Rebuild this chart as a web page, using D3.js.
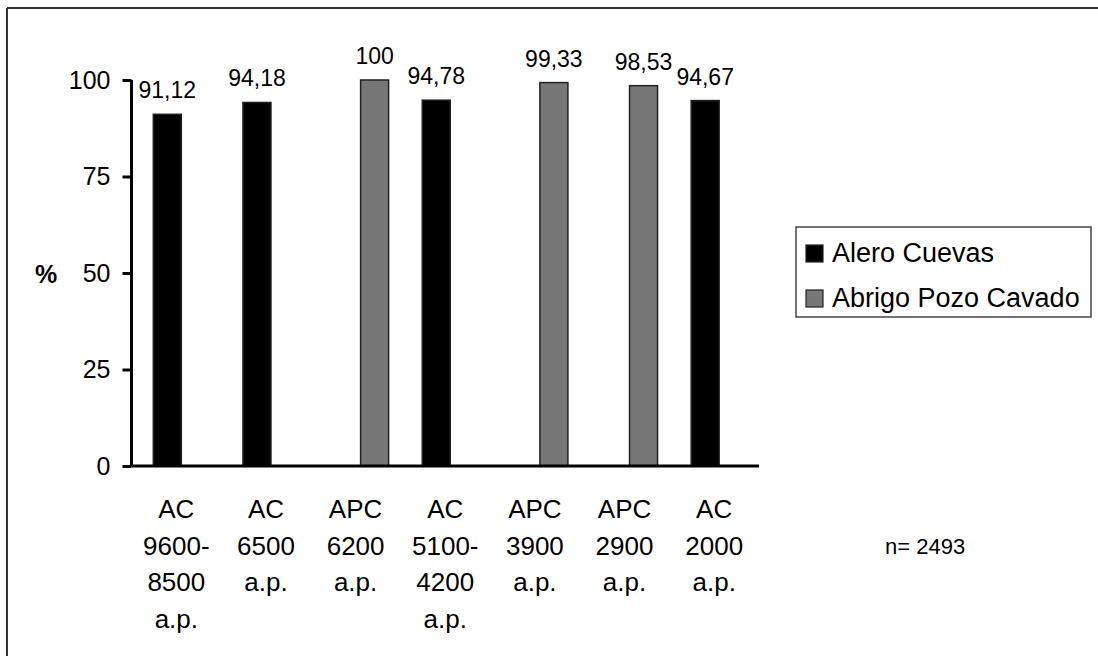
<!DOCTYPE html>
<html lang="es">
<head>
    <meta charset="UTF-8">
    <title>Alero Cuevas / Abrigo Pozo Cavado</title>
    <script src="https://d3js.org/d3.v7.min.js"></script>
    <style>
        body {
            margin: 0;
            padding: 0;
            background-color: #fff;
            font-family: "Liberation Sans", Arial, sans-serif;
        }
        svg text {
            fill: #000;
        }
    </style>
</head>
<body>
    <svg id="chart" width="1098" height="656"></svg>

    <script>
        // categories: one per sample (site + age), split into label lines
        const categories = ["AC9600", "AC6500", "APC6200", "AC5100", "APC3900", "APC2900", "AC2000"];
        const categoryLines = [
            ["AC", "9600-", "8500", "a.p."],
            ["AC", "6500", "a.p."],
            ["APC", "6200", "a.p."],
            ["AC", "5100-", "4200", "a.p."],
            ["APC", "3900", "a.p."],
            ["APC", "2900", "a.p."],
            ["AC", "2000", "a.p."]
        ];
        const sites = ["Alero Cuevas", "Abrigo Pozo Cavado"];
        const categorySite = ["Alero Cuevas", "Alero Cuevas", "Abrigo Pozo Cavado", "Alero Cuevas",
                              "Abrigo Pozo Cavado", "Abrigo Pozo Cavado", "Alero Cuevas"];
        const values = [91.12, 94.18, 100, 94.78, 99.33, 98.53, 94.67];
        const yTicks = [0, 25, 50, 75, 100];
        const siteColors = ["#000000", "#777777"];
        const nLabel = "n= 2493";

        const svg = d3.select("#chart");

        // frame (only top and left edges show in the original)
        svg.append("line").attr("x1", 7).attr("x2", 1098).attr("y1", 8).attr("y2", 8)
            .attr("stroke", "#333").attr("stroke-width", 2);
        svg.append("line").attr("x1", 7).attr("x2", 7).attr("y1", 8).attr("y2", 656)
            .attr("stroke", "#333").attr("stroke-width", 2);

        const plot = { left: 131.5, right: 759, top: 80, bottom: 466 };

        const x = d3.scaleBand()
            .domain(categories)
            .range([plot.left, plot.right]);

        // sub-band for the two sites inside each category (bars are offset, not centered)
        const x1 = d3.scaleBand()
            .domain(sites)
            .range([-23, 33]);

        const y = d3.scaleLinear()
            .domain([0, 100])
            .range([plot.bottom, plot.top]);

        const color = d3.scaleOrdinal().domain(sites).range(siteColors);

        const data = categories.map((c, i) => ({ cat: c, site: categorySite[i], value: values[i], lines: categoryLines[i] }));

        // bars
        svg.selectAll("rect.bar")
            .data(data)
            .join("rect")
            .attr("class", "bar")
            .attr("x", d => x(d.cat) + x.bandwidth() / 2 + x1(d.site))
            .attr("width", x1.bandwidth())
            .attr("y", d => y(d.value))
            .attr("height", d => y(0) - y(d.value))
            .attr("fill", d => color(d.site))
            .attr("stroke", "#222")
            .attr("stroke-width", 1.5);

        // value labels
        svg.selectAll("text.value")
            .data(data)
            .join("text")
            .attr("class", "value")
            .attr("x", d => x(d.cat) + x.bandwidth() / 2 + x1(d.site) + x1.bandwidth() / 2)
            .attr("y", d => y(d.value) - 16)
            .attr("text-anchor", "middle")
            .style("font-size", "23px")
            .text(d => String(d.value).replace(".", ","));

        // y axis
        const yAxis = svg.append("g")
            .attr("transform", `translate(${plot.left},0)`)
            .call(d3.axisLeft(y).tickValues(yTicks).tickSize(9).tickPadding(12));
        yAxis.select(".domain").attr("stroke", "#000").attr("stroke-width", 3)
            .attr("d", `M0,${plot.bottom}V${plot.top}`);
        yAxis.selectAll(".tick line").attr("stroke", "#000").attr("stroke-width", 3);
        yAxis.selectAll(".tick text")
            .style("font-size", "25px")
            .style("font-family", "'Liberation Sans', Arial, sans-serif")
            .attr("fill", "#000");

        // x axis baseline
        svg.append("line")
            .attr("x1", plot.left).attr("x2", plot.right)
            .attr("y1", y(0)).attr("y2", y(0))
            .attr("stroke", "#000").attr("stroke-width", 3);

        // category labels
        const catLabels = svg.selectAll("text.cat")
            .data(data)
            .join("text")
            .attr("class", "cat")
            .attr("text-anchor", "middle")
            .style("font-size", "26px");
        catLabels.selectAll("tspan")
            .data(d => d.lines.map(l => ({ l, cx: x(d.cat) + x.bandwidth() / 2 })))
            .join("tspan")
            .attr("x", t => t.cx)
            .attr("y", (t, i) => 518 + i * 36.7)
            .text(t => t.l);

        // % label
        svg.append("text")
            .attr("x", 46).attr("y", 283)
            .attr("text-anchor", "middle")
            .style("font-size", "25px")
            .style("font-weight", "bold")
            .text("%");

        // legend
        const legend = svg.append("g");
        legend.append("rect")
            .attr("x", 796).attr("y", 227).attr("width", 295).attr("height", 90)
            .attr("fill", "#fff").attr("stroke", "#444").attr("stroke-width", 1.5);
        const items = legend.selectAll("g.item")
            .data(sites)
            .join("g")
            .attr("class", "item")
            .attr("transform", (d, i) => `translate(806,${245 + i * 45})`);
        items.append("rect")
            .attr("width", 17).attr("height", 17)
            .attr("fill", d => color(d))
            .attr("stroke", "#222").attr("stroke-width", 1.2);
        items.append("text")
            .attr("x", 26).attr("y", 17)
            .style("font-size", "27px")
            .text(d => d);

        // sample size note
        svg.append("text")
            .attr("x", 885).attr("y", 554)
            .style("font-size", "22px")
            .text(nLabel);
    </script>
</body>
</html>
